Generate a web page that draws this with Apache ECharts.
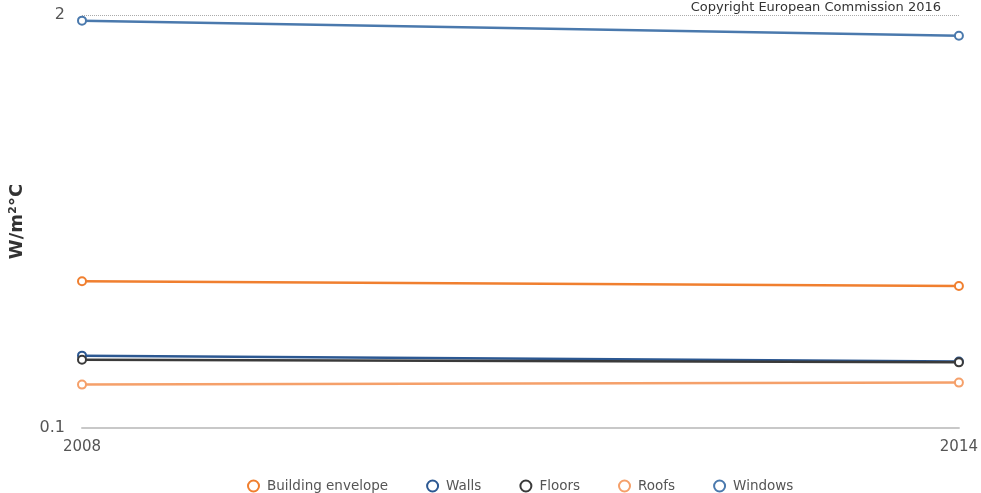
<!DOCTYPE html>
<html>
<head>
<meta charset="utf-8">
<script src="https://cdn.jsdelivr.net/npm/echarts@6/dist/echarts.min.js"></script>
<style>
  html, body { margin: 0; padding: 0; background: #fff; }
  #chart { width: 981px; height: 493px; }
</style>
</head>
<body>
<div id="chart"></div>
<script>
// Average U-values by building element (W/m²°C)
const years = ['2008', '2014'];
const buildingEnvelope = [0.290, 0.280];
const walls = [0.169, 0.162];
const floors = [0.164, 0.161];
const roofs = [0.137, 0.139];
const windows = [1.92, 1.72];
const yTickLabels = [0.1, 2];

const seriesDefs = [
  { name: 'Building envelope', data: buildingEnvelope, color: '#f07f2f' },
  { name: 'Walls', data: walls, color: '#2c5892' },
  { name: 'Floors', data: floors, color: '#3a3a3a' },
  { name: 'Roofs', data: roofs, color: '#f5a06a' },
  { name: 'Windows', data: windows, color: '#4a79ad' }
];

const chart = echarts.init(document.getElementById('chart'));
chart.setOption({
  animation: false,
  title: {
    text: 'Copyright European Commission 2016',
    right: 35, top: -4,
    textStyle: { fontSize: 13, fontWeight: 'normal', color: '#333', fontFamily: 'DejaVu Sans' }
  },
  grid: { left: 82, right: 22, top: 15, bottom: 65 },
  legend: {
    bottom: -5,
    left: 242,
    icon: 'emptyCircle',
    itemWidth: 11, itemHeight: 11,
    itemGap: 38,
    textStyle: { fontSize: 13.5, color: '#555', fontFamily: 'DejaVu Sans', padding: [0, 0, 0, 3] },
    data: seriesDefs.map(s => s.name)
  },
  xAxis: {
    type: 'category',
    data: years,
    boundaryGap: false,
    axisLine: { lineStyle: { color: '#c8c8c8', width: 2 } },
    axisTick: { show: false },
    axisLabel: { fontSize: 15, color: '#555', margin: 12, fontFamily: 'DejaVu Sans' }
  },
  yAxis: {
    type: 'log',
    logBase: 10,
    min: 0.1, max: 2,
    name: 'W/m²°C',
    nameLocation: 'middle',
    nameGap: 56,
    nameTextStyle: { fontSize: 18, fontWeight: 'bold', color: '#333', fontFamily: 'DejaVu Sans' },
    axisLine: { show: false },
    axisTick: { show: false, customValues: [2] },
    axisLabel: {
      customValues: yTickLabels,
      fontSize: 16, color: '#555', margin: 17, fontFamily: 'DejaVu Sans',
      formatter: v => String(v)
    },
    splitLine: { show: true, lineStyle: { type: 'dotted', color: '#aaa', width: 1 } }
  },
  series: seriesDefs.map(s => ({
    name: s.name,
    type: 'line',
    data: s.data,
    symbol: 'emptyCircle',
    symbolSize: 8,
    color: s.color,
    lineStyle: { width: 2.5, color: s.color },
    itemStyle: { color: s.color, borderWidth: 1.5 }
  }))
});
</script>
</body>
</html>
